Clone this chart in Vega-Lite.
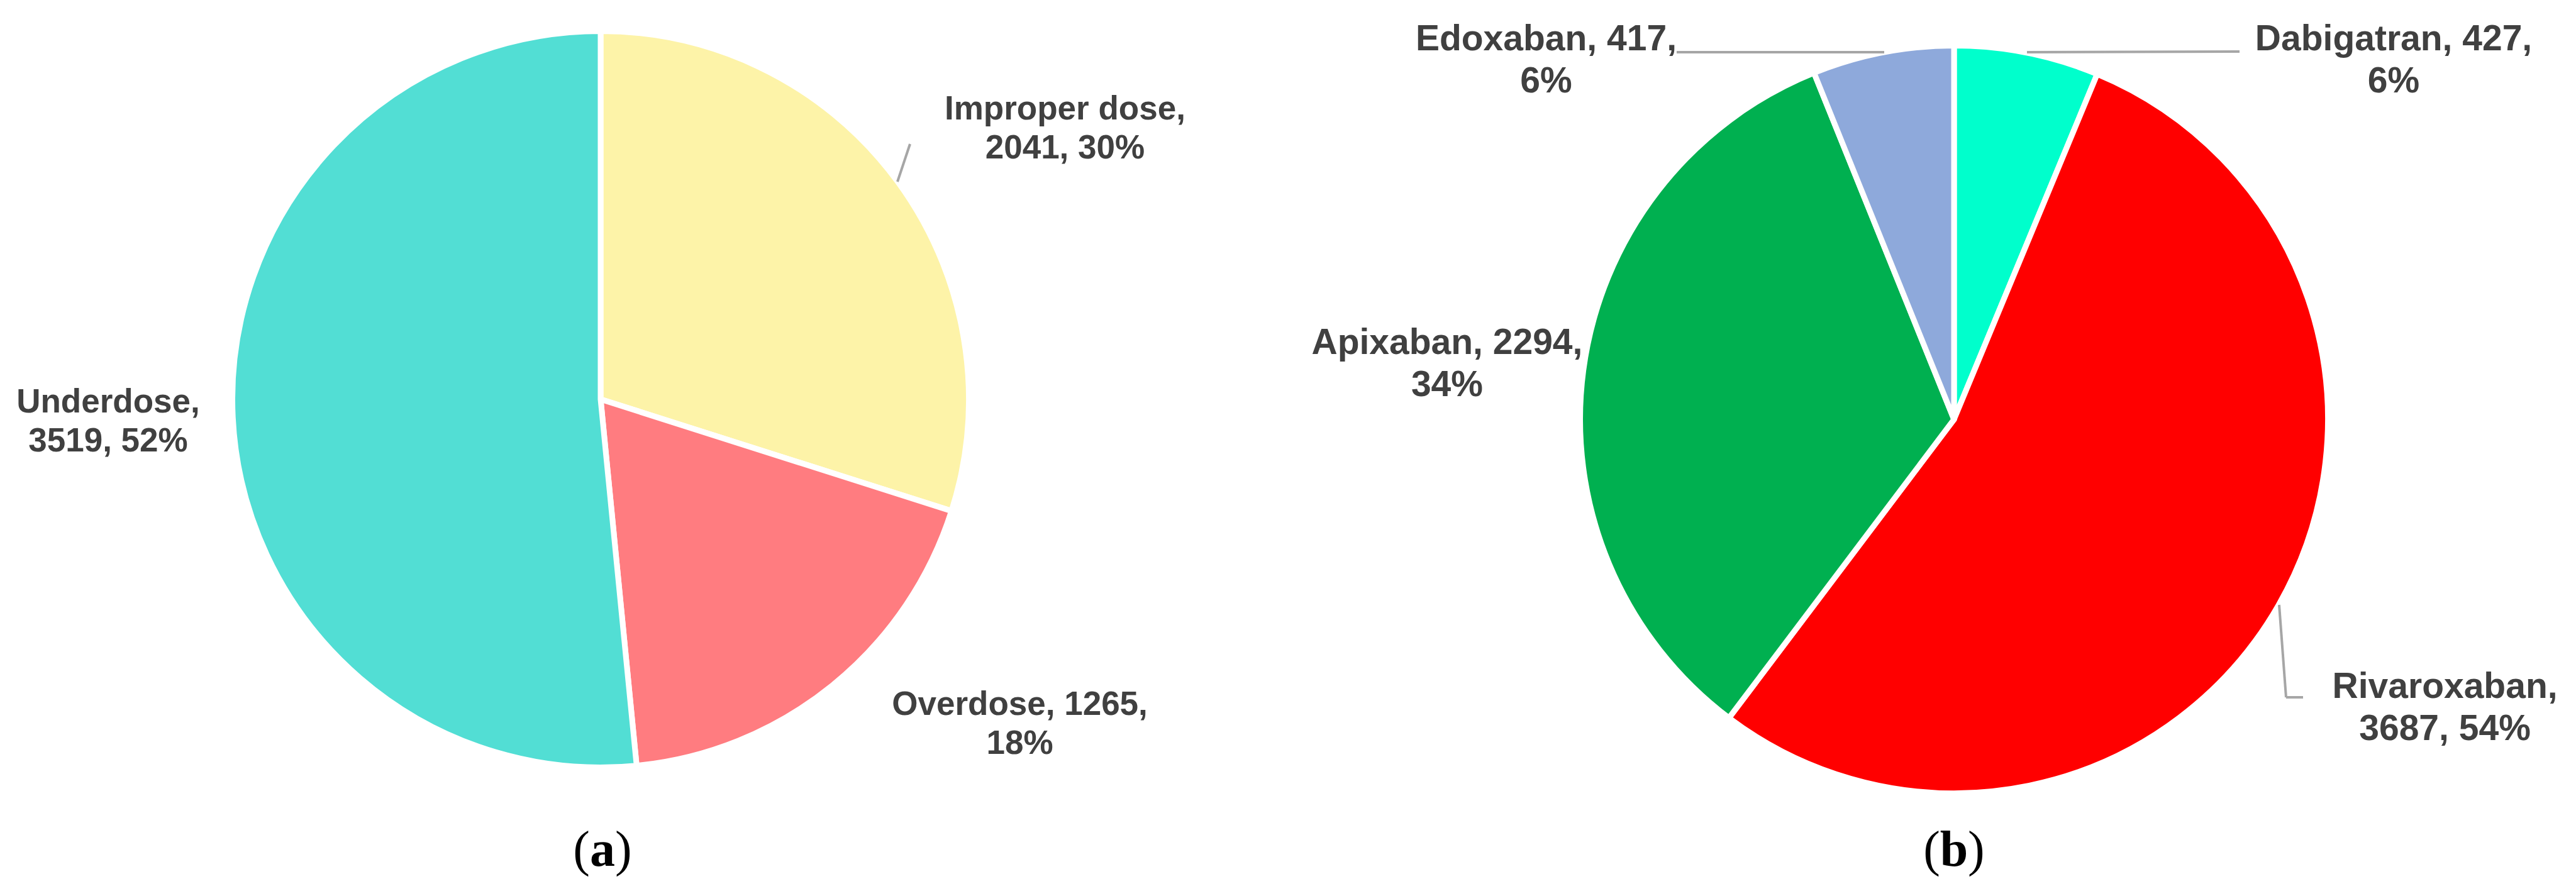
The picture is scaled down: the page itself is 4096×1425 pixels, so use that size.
{
  "$schema": "https://vega.github.io/schema/vega-lite/v6.json",
  "width": 4096,
  "height": 1425,
  "autosize": {"type": "none"},
  "padding": 0,
  "background": "white",
  "config": {"view": {"stroke": null}},
  "datasets": {
    "dose": [
      {"cat": "Improper dose", "count": 2041, "ord": 1, "label": "Improper dose,\n2041, 30%"},
      {"cat": "Overdose", "count": 1265, "ord": 2, "label": "Overdose, 1265,\n18%"},
      {"cat": "Underdose", "count": 3519, "ord": 3, "label": "Underdose,\n3519, 52%"}
    ],
    "doac": [
      {"cat": "Dabigatran", "count": 427, "ord": 1, "label": "Dabigatran, 427,\n6%"},
      {"cat": "Rivaroxaban", "count": 3687, "ord": 2, "label": "Rivaroxaban,\n3687, 54%"},
      {"cat": "Apixaban", "count": 2294, "ord": 3, "label": "Apixaban, 2294,\n34%"},
      {"cat": "Edoxaban", "count": 417, "ord": 4, "label": "Edoxaban, 417,\n6%"}
    ],
    "blank": [{}]
  },
  "layer": [
    {
      "data": {"name": "dose"},
      "mark": {"type": "arc", "outerRadius": 585.5, "stroke": "white", "strokeWidth": 9, "strokeJoin": "round"},
      "encoding": {
        "x": {"datum": 955, "type": "quantitative", "scale": {"domain": [0, 4096], "nice": false, "zero": false}, "axis": null},
        "y": {"datum": 635, "type": "quantitative", "scale": {"domain": [0, 1425], "nice": false, "zero": false, "reverse": true}, "axis": null},
        "theta": {"field": "count", "type": "quantitative", "stack": true},
        "order": {"field": "ord"},
        "color": {
          "field": "cat", "type": "nominal", "legend": null,
          "scale": {
            "domain": ["Improper dose", "Overdose", "Underdose", "Dabigatran", "Rivaroxaban", "Apixaban", "Edoxaban"],
            "range": ["#FDF3A8", "#FF7C80", "#52DED4", "#00FFCC", "#FF0000", "#00B050", "#8EA9DB"]
          }
        }
      }
    },
    {
      "data": {"name": "doac"},
      "mark": {"type": "arc", "outerRadius": 594.5, "stroke": "white", "strokeWidth": 9, "strokeJoin": "round"},
      "encoding": {
        "x": {"datum": 3107, "type": "quantitative"},
        "y": {"datum": 667, "type": "quantitative"},
        "theta": {"field": "count", "type": "quantitative", "stack": true},
        "order": {"field": "ord"},
        "color": {"field": "cat", "type": "nominal", "legend": null}
      }
    },
    {
      "data": {"name": "dose"},
      "mark": {"type": "text", "radius": 859, "dx": 45, "dy": 62, "align": "center", "baseline": "alphabetic", "font": "Liberation Sans", "fontWeight": "bold", "fontSize": 53, "lineHeight": 62, "lineBreak": "\n", "color": "#404040"},
      "encoding": {
        "x": {"datum": 955, "type": "quantitative"},
        "y": {"datum": 635, "type": "quantitative"},
        "theta": {"field": "count", "type": "quantitative", "stack": true},
        "order": {"field": "ord"},
        "detail": {"field": "cat"},
        "text": {"condition": {"test": "datum.cat === 'Improper dose'", "field": "label"}, "value": ""}
      }
    },
    {
      "data": {"name": "dose"},
      "mark": {"type": "text", "radius": 810, "dx": 157, "dy": -128, "align": "center", "baseline": "alphabetic", "font": "Liberation Sans", "fontWeight": "bold", "fontSize": 53, "lineHeight": 62, "lineBreak": "\n", "color": "#404040"},
      "encoding": {
        "x": {"datum": 955, "type": "quantitative"},
        "y": {"datum": 635, "type": "quantitative"},
        "theta": {"field": "count", "type": "quantitative", "stack": true},
        "order": {"field": "ord"},
        "detail": {"field": "cat"},
        "text": {"condition": {"test": "datum.cat === 'Overdose'", "field": "label"}, "value": ""}
      }
    },
    {
      "data": {"name": "dose"},
      "mark": {"type": "text", "radius": 783, "dx": -1, "dy": -17, "align": "center", "baseline": "alphabetic", "font": "Liberation Sans", "fontWeight": "bold", "fontSize": 53, "lineHeight": 62, "lineBreak": "\n", "color": "#404040"},
      "encoding": {
        "x": {"datum": 955, "type": "quantitative"},
        "y": {"datum": 635, "type": "quantitative"},
        "theta": {"field": "count", "type": "quantitative", "stack": true},
        "order": {"field": "ord"},
        "detail": {"field": "cat"},
        "text": {"condition": {"test": "datum.cat === 'Underdose'", "field": "label"}, "value": ""}
      }
    },
    {
      "data": {"name": "doac"},
      "mark": {"type": "text", "radius": 712, "dx": 560, "dy": 111, "align": "center", "baseline": "alphabetic", "font": "Liberation Sans", "fontWeight": "bold", "fontSize": 57, "lineHeight": 67, "lineBreak": "\n", "color": "#404040"},
      "encoding": {
        "x": {"datum": 3107, "type": "quantitative"},
        "y": {"datum": 667, "type": "quantitative"},
        "theta": {"field": "count", "type": "quantitative", "stack": true},
        "order": {"field": "ord"},
        "detail": {"field": "cat"},
        "text": {"condition": {"test": "datum.cat === 'Dabigatran'", "field": "label"}, "value": ""}
      }
    },
    {
      "data": {"name": "doac"},
      "mark": {"type": "text", "radius": 898, "dx": 1, "dy": -3, "align": "center", "baseline": "alphabetic", "font": "Liberation Sans", "fontWeight": "bold", "fontSize": 57, "lineHeight": 67, "lineBreak": "\n", "color": "#404040"},
      "encoding": {
        "x": {"datum": 3107, "type": "quantitative"},
        "y": {"datum": 667, "type": "quantitative"},
        "theta": {"field": "count", "type": "quantitative", "stack": true},
        "order": {"field": "ord"},
        "detail": {"field": "cat"},
        "text": {"condition": {"test": "datum.cat === 'Rivaroxaban'", "field": "label"}, "value": ""}
      }
    },
    {
      "data": {"name": "doac"},
      "mark": {"type": "text", "radius": 813, "dx": 0, "dy": 2, "align": "center", "baseline": "alphabetic", "font": "Liberation Sans", "fontWeight": "bold", "fontSize": 57, "lineHeight": 67, "lineBreak": "\n", "color": "#404040"},
      "encoding": {
        "x": {"datum": 3107, "type": "quantitative"},
        "y": {"datum": 667, "type": "quantitative"},
        "theta": {"field": "count", "type": "quantitative", "stack": true},
        "order": {"field": "ord"},
        "detail": {"field": "cat"},
        "text": {"condition": {"test": "datum.cat === 'Apixaban'", "field": "label"}, "value": ""}
      }
    },
    {
      "data": {"name": "doac"},
      "mark": {"type": "text", "radius": 700, "dx": -515, "dy": 100, "align": "center", "baseline": "alphabetic", "font": "Liberation Sans", "fontWeight": "bold", "fontSize": 57, "lineHeight": 67, "lineBreak": "\n", "color": "#404040"},
      "encoding": {
        "x": {"datum": 3107, "type": "quantitative"},
        "y": {"datum": 667, "type": "quantitative"},
        "theta": {"field": "count", "type": "quantitative", "stack": true},
        "order": {"field": "ord"},
        "detail": {"field": "cat"},
        "text": {"condition": {"test": "datum.cat === 'Edoxaban'", "field": "label"}, "value": ""}
      }
    },
    {
      "data": {"name": "blank"},
      "mark": {"type": "rule", "color": "#A6A6A6", "strokeWidth": 4},
      "encoding": {
        "x": {"datum": 1447, "type": "quantitative"}, "y": {"datum": 229, "type": "quantitative"},
        "x2": {"datum": 1427}, "y2": {"datum": 289}
      }
    },
    {
      "data": {"name": "blank"},
      "mark": {"type": "rule", "color": "#A6A6A6", "strokeWidth": 4},
      "encoding": {
        "x": {"datum": 2666, "type": "quantitative"}, "y": {"datum": 83, "type": "quantitative"},
        "x2": {"datum": 2996}, "y2": {"datum": 83}
      }
    },
    {
      "data": {"name": "blank"},
      "mark": {"type": "rule", "color": "#A6A6A6", "strokeWidth": 4},
      "encoding": {
        "x": {"datum": 3223, "type": "quantitative"}, "y": {"datum": 83, "type": "quantitative"},
        "x2": {"datum": 3561}, "y2": {"datum": 82}
      }
    },
    {
      "data": {"name": "blank"},
      "mark": {"type": "rule", "color": "#A6A6A6", "strokeWidth": 4},
      "encoding": {
        "x": {"datum": 3624, "type": "quantitative"}, "y": {"datum": 962, "type": "quantitative"},
        "x2": {"datum": 3635}, "y2": {"datum": 1109}
      }
    },
    {
      "data": {"name": "blank"},
      "mark": {"type": "rule", "color": "#A6A6A6", "strokeWidth": 4},
      "encoding": {
        "x": {"datum": 3635, "type": "quantitative"}, "y": {"datum": 1109, "type": "quantitative"},
        "x2": {"datum": 3662}, "y2": {"datum": 1109}
      }
    },
    {
      "data": {"name": "blank"},
      "mark": {"type": "text", "align": "right", "baseline": "alphabetic", "font": "Liberation Serif", "fontSize": 80, "color": "black", "dx": -20},
      "encoding": {
        "x": {"datum": 958, "type": "quantitative"}, "y": {"datum": 1377, "type": "quantitative"},
        "text": {"value": "("}
      }
    },
    {
      "data": {"name": "blank"},
      "mark": {"type": "text", "align": "center", "baseline": "alphabetic", "font": "Liberation Serif", "fontWeight": "bold", "fontSize": 80, "color": "black"},
      "encoding": {
        "x": {"datum": 958, "type": "quantitative"}, "y": {"datum": 1377, "type": "quantitative"},
        "text": {"value": "a"}
      }
    },
    {
      "data": {"name": "blank"},
      "mark": {"type": "text", "align": "left", "baseline": "alphabetic", "font": "Liberation Serif", "fontSize": 80, "color": "black", "dx": 20},
      "encoding": {
        "x": {"datum": 958, "type": "quantitative"}, "y": {"datum": 1377, "type": "quantitative"},
        "text": {"value": ")"}
      }
    },
    {
      "data": {"name": "blank"},
      "mark": {"type": "text", "align": "right", "baseline": "alphabetic", "font": "Liberation Serif", "fontSize": 80, "color": "black", "dx": -22},
      "encoding": {
        "x": {"datum": 3107, "type": "quantitative"}, "y": {"datum": 1377, "type": "quantitative"},
        "text": {"value": "("}
      }
    },
    {
      "data": {"name": "blank"},
      "mark": {"type": "text", "align": "center", "baseline": "alphabetic", "font": "Liberation Serif", "fontWeight": "bold", "fontSize": 80, "color": "black"},
      "encoding": {
        "x": {"datum": 3107, "type": "quantitative"}, "y": {"datum": 1377, "type": "quantitative"},
        "text": {"value": "b"}
      }
    },
    {
      "data": {"name": "blank"},
      "mark": {"type": "text", "align": "left", "baseline": "alphabetic", "font": "Liberation Serif", "fontSize": 80, "color": "black", "dx": 22},
      "encoding": {
        "x": {"datum": 3107, "type": "quantitative"}, "y": {"datum": 1377, "type": "quantitative"},
        "text": {"value": ")"}
      }
    }
  ]
}
